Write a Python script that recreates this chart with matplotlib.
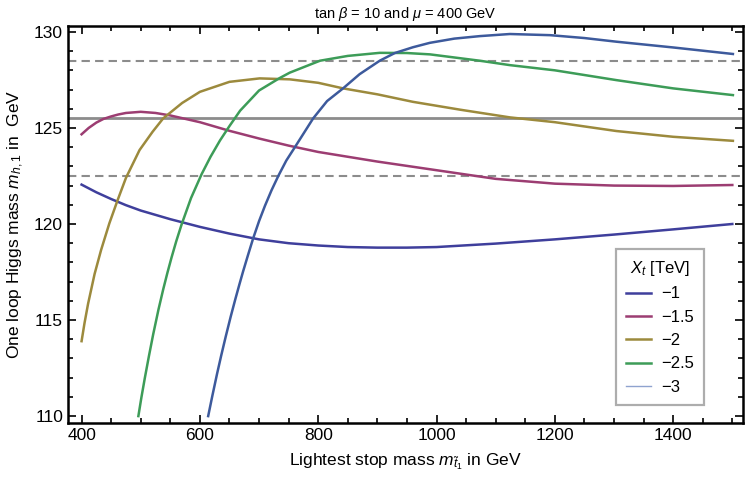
import numpy as np
import matplotlib.pyplot as plt
from matplotlib.ticker import MultipleLocator

plt.rcParams['font.family'] = ['Liberation Sans', 'DejaVu Sans']
plt.rcParams['mathtext.fontset'] = 'custom'
plt.rcParams['mathtext.it'] = 'Liberation Sans:italic'
plt.rcParams['mathtext.rm'] = 'Liberation Sans'

# Curves (stop mass in GeV, Higgs mass in GeV)
x_m1 = [400, 425, 450, 475, 500, 550, 600, 650, 700, 750, 800, 850, 900, 950, 1000, 1100, 1200, 1300, 1400, 1500]
y_m1 = [122.05, 121.65, 121.3, 120.98, 120.7, 120.25, 119.85, 119.5, 119.2, 119.0, 118.88, 118.8, 118.77, 118.77, 118.8, 118.98, 119.2, 119.45, 119.72, 120.0]

x_m15 = [400, 412, 425, 437, 450, 462, 475, 500, 525, 550, 600, 650, 700, 750, 800, 900, 1000, 1100, 1200, 1300, 1400, 1500]
y_m15 = [124.67, 125.0, 125.28, 125.47, 125.6, 125.7, 125.78, 125.84, 125.78, 125.65, 125.3, 124.85, 124.45, 124.08, 123.75, 123.25, 122.8, 122.35, 122.1, 122.0, 121.98, 122.03]

x_m2 = [400, 405, 411, 422, 433, 447, 461, 475, 498, 520, 538, 570, 600, 650, 701, 752, 800, 842, 900, 960, 1040, 1124, 1200, 1304, 1400, 1501]
y_m2 = [113.9, 114.85, 115.85, 117.4, 118.65, 120.04, 121.25, 122.4, 123.85, 124.8, 125.5, 126.3, 126.88, 127.4, 127.58, 127.53, 127.35, 127.06, 126.75, 126.36, 125.95, 125.55, 125.3, 124.84, 124.54, 124.33]

x_m25 = [496, 501, 507, 514, 521, 530, 538, 545, 552, 560, 569, 585, 603, 618, 634, 650, 668, 700, 735, 752, 803, 850, 904, 950, 989, 1073, 1124, 1200, 1304, 1400, 1501]
y_m25 = [110.0, 110.95, 112.0, 113.15, 114.25, 115.55, 116.6, 117.45, 118.25, 119.1, 119.97, 121.35, 122.6, 123.5, 124.35, 125.1, 125.9, 126.95, 127.6, 127.88, 128.5, 128.75, 128.91, 128.9, 128.83, 128.5, 128.27, 128.0, 127.49, 127.06, 126.71]

x_m3 = [614, 621, 629, 636, 643.5, 652, 660, 667, 673, 681, 690, 700, 710, 721, 732.5, 746, 760.6, 791.5, 815, 842, 870, 904, 929.5, 960, 988.6, 1030, 1073, 1124, 1192, 1250, 1304, 1400, 1501]
y_m3 = [110.0, 111.05, 112.2, 113.15, 114.12, 115.17, 116.1, 116.88, 117.53, 118.35, 119.25, 120.15, 120.95, 121.75, 122.5, 123.3, 124.0, 125.5, 126.4, 127.06, 127.8, 128.5, 128.9, 129.2, 129.43, 129.65, 129.78, 129.89, 129.83, 129.68, 129.49, 129.19, 128.85]

labels = ['\u22121', '\u22121.5', '\u22122', '\u22122.5', '\u22123']
colors = ['#3f3f9c', '#9c3d72', '#9c8a3d', '#3d9c58', '#3d5a9c']

h_central = 125.5
h_band = [122.5, 128.5]

fig = plt.figure(figsize=(7.47, 4.84), dpi=100)
ax = fig.add_axes([0.091, 0.126, 0.9036, 0.82])

ax.axhline(h_central, color='#8c8c8c', lw=2.0, zorder=1)
for h in h_band:
    ax.axhline(h, color='#8c8c8c', lw=1.5, ls=(0, (4, 2.5)), zorder=1)

series = [(x_m1, y_m1), (x_m15, y_m15), (x_m2, y_m2), (x_m25, y_m25), (x_m3, y_m3)]
for (xs, ys), c, lab in zip(series, colors, labels):
    ax.plot(xs, ys, color=c, lw=1.8, label=lab, zorder=3)

ax.set_xlim(377, 1518)
ax.set_ylim(109.64, 130.3)

ax.xaxis.set_major_locator(MultipleLocator(200))
ax.xaxis.set_minor_locator(MultipleLocator(50))
ax.yaxis.set_major_locator(MultipleLocator(5))
ax.yaxis.set_minor_locator(MultipleLocator(1))
ax.tick_params(which='both', direction='in', top=True, right=True, labelsize=12.5, width=1.2)
ax.tick_params(which='major', length=6)
ax.tick_params(which='minor', length=3.5)
for sp in ax.spines.values():
    sp.set_linewidth(1.8)

ax.set_title(r'tan $\beta$ = 10 and $\mu$ = 400 GeV', fontsize=10.5, pad=6)
ax.set_xlabel(r'Lightest stop mass $m_{\tilde{t}_1}$ in GeV', fontsize=12.5, labelpad=6)
ax.set_ylabel(r'One loop Higgs mass $m_{h,1}$ in  GeV', fontsize=12.5, labelpad=6)

leg = ax.legend(loc='lower right', bbox_to_anchor=(0.955, 0.025), title=r'$X_t$ [TeV]',
                fontsize=12, title_fontsize=12, frameon=True, fancybox=False,
                handlelength=1.5, handletextpad=0.6, borderpad=0.6, labelspacing=0.5)
leg.get_frame().set_edgecolor('#999999')
leg.get_frame().set_linewidth(1.6)
leg.legend_handles[4].set_linewidth(1.0)
leg.legend_handles[4].set_color('#8fa3cf')

plt.savefig('out.png', dpi=100)
